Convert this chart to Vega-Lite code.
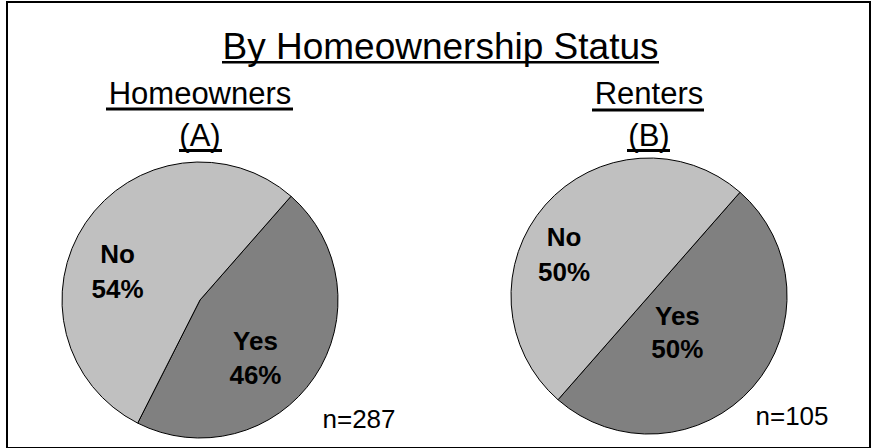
{
  "$schema": "https://vega.github.io/schema/vega-lite/v6.json",
  "width": 863,
  "height": 446,
  "autosize": {"type": "none"},
  "padding": {"left": 7, "top": 2, "right": 3, "bottom": 0},
  "background": "white",
  "config": {
    "view": {"stroke": "#000000", "strokeWidth": 2},
    "font": "Liberation Sans",
    "text": {"font": "Liberation Sans", "color": "#000000"}
  },
  "datasets": {
    "slices": [
      {"group": "A", "answer": "Yes", "share": 0.46},
      {"group": "A", "answer": "No", "share": 0.54},
      {"group": "B", "answer": "Yes", "share": 0.50},
      {"group": "B", "answer": "No", "share": 0.50}
    ],
    "groups": [
      {"group": "A", "name": "Homeowners", "code": "(A)", "nLabel": "n=287"},
      {"group": "B", "name": "Renters", "code": "(B)", "nLabel": "n=105"}
    ],
    "heading": [{"t": "By Homeownership Status"}]
  },
  "layer": [
    {
      "data": {"name": "slices"},
      "transform": [{"filter": "datum.group === 'A'"}],
      "mark": {"type": "arc", "radius": 138, "stroke": "#000000", "strokeWidth": 1, "y": 298},
      "encoding": {
        "x": {"field": "group", "type": "nominal", "scale": {"type": "point", "domain": ["A", "B"], "range": [193, 642], "padding": 0}, "axis": null},
        "theta": {"field": "share", "type": "quantitative", "stack": true, "scale": {"domain": [0, 1], "range": [0.72, 7.0032]}},
        "color": {"field": "answer", "type": "nominal", "scale": {"domain": ["No", "Yes"], "range": ["#C0C0C0", "#808080"]}, "legend": null},
        "order": {"field": "answer", "sort": "descending"}
      }
    },
    {
      "data": {"name": "slices"},
      "transform": [{"filter": "datum.group === 'B'"}],
      "mark": {"type": "arc", "radius": 138, "stroke": "#000000", "strokeWidth": 1, "y": 294},
      "encoding": {
        "x": {"field": "group", "type": "nominal"},
        "theta": {"field": "share", "type": "quantitative", "stack": true},
        "color": {"field": "answer", "type": "nominal"},
        "order": {"field": "answer", "sort": "descending"}
      }
    },
    {
      "data": {"name": "slices"},
      "transform": [{"filter": "datum.group === 'A'"}],
      "mark": {"type": "text", "radius": 82, "dx": -14.5, "dy": 1, "y": 298, "fontSize": 26, "fontWeight": "bold", "align": "center", "baseline": "middle"},
      "encoding": {
        "x": {"field": "group", "type": "nominal"},
        "theta": {"field": "share", "type": "quantitative", "stack": true},
        "order": {"field": "answer", "sort": "descending"},
        "text": {"field": "answer", "type": "nominal"},
        "opacity": {"condition": {"test": "datum.answer === 'No'", "value": 1}, "value": 0}
      }
    },
    {
      "data": {"name": "slices"},
      "transform": [{"filter": "datum.group === 'A'"}],
      "mark": {"type": "text", "radius": 82, "dx": -14.5, "dy": 36, "y": 298, "fontSize": 26, "fontWeight": "bold", "align": "center", "baseline": "middle"},
      "encoding": {
        "x": {"field": "group", "type": "nominal"},
        "theta": {"field": "share", "type": "quantitative", "stack": true},
        "order": {"field": "answer", "sort": "descending"},
        "text": {"field": "share", "type": "quantitative", "format": ".0%"},
        "opacity": {"condition": {"test": "datum.answer === 'No'", "value": 1}, "value": 0}
      }
    },
    {
      "data": {"name": "slices"},
      "transform": [{"filter": "datum.group === 'A'"}],
      "mark": {"type": "text", "radius": 82, "dx": -12.5, "dy": -3.5, "y": 298, "fontSize": 26, "fontWeight": "bold", "align": "center", "baseline": "middle"},
      "encoding": {
        "x": {"field": "group", "type": "nominal"},
        "theta": {"field": "share", "type": "quantitative", "stack": true},
        "order": {"field": "answer", "sort": "descending"},
        "text": {"field": "answer", "type": "nominal"},
        "opacity": {"condition": {"test": "datum.answer === 'Yes'", "value": 1}, "value": 0}
      }
    },
    {
      "data": {"name": "slices"},
      "transform": [{"filter": "datum.group === 'A'"}],
      "mark": {"type": "text", "radius": 82, "dx": -12.5, "dy": 30, "y": 298, "fontSize": 26, "fontWeight": "bold", "align": "center", "baseline": "middle"},
      "encoding": {
        "x": {"field": "group", "type": "nominal"},
        "theta": {"field": "share", "type": "quantitative", "stack": true},
        "order": {"field": "answer", "sort": "descending"},
        "text": {"field": "share", "type": "quantitative", "format": ".0%"},
        "opacity": {"condition": {"test": "datum.answer === 'Yes'", "value": 1}, "value": 0}
      }
    },
    {
      "data": {"name": "slices"},
      "transform": [{"filter": "datum.group === 'B'"}],
      "mark": {"type": "text", "radius": 69, "dx": -33, "dy": -12.5, "y": 294, "fontSize": 26, "fontWeight": "bold", "align": "center", "baseline": "middle"},
      "encoding": {
        "x": {"field": "group", "type": "nominal"},
        "theta": {"field": "share", "type": "quantitative", "stack": true},
        "order": {"field": "answer", "sort": "descending"},
        "text": {"field": "answer", "type": "nominal"},
        "opacity": {"condition": {"test": "datum.answer === 'No'", "value": 1}, "value": 0}
      }
    },
    {
      "data": {"name": "slices"},
      "transform": [{"filter": "datum.group === 'B'"}],
      "mark": {"type": "text", "radius": 69, "dx": -33, "dy": 22.5, "y": 294, "fontSize": 26, "fontWeight": "bold", "align": "center", "baseline": "middle"},
      "encoding": {
        "x": {"field": "group", "type": "nominal"},
        "theta": {"field": "share", "type": "quantitative", "stack": true},
        "order": {"field": "answer", "sort": "descending"},
        "text": {"field": "share", "type": "quantitative", "format": ".0%"},
        "opacity": {"condition": {"test": "datum.answer === 'No'", "value": 1}, "value": 0}
      }
    },
    {
      "data": {"name": "slices"},
      "transform": [{"filter": "datum.group === 'B'"}],
      "mark": {"type": "text", "radius": 69, "dx": -23.5, "dy": -24.5, "y": 294, "fontSize": 26, "fontWeight": "bold", "align": "center", "baseline": "middle"},
      "encoding": {
        "x": {"field": "group", "type": "nominal"},
        "theta": {"field": "share", "type": "quantitative", "stack": true},
        "order": {"field": "answer", "sort": "descending"},
        "text": {"field": "answer", "type": "nominal"},
        "opacity": {"condition": {"test": "datum.answer === 'Yes'", "value": 1}, "value": 0}
      }
    },
    {
      "data": {"name": "slices"},
      "transform": [{"filter": "datum.group === 'B'"}],
      "mark": {"type": "text", "radius": 69, "dx": -23.5, "dy": 9, "y": 294, "fontSize": 26, "fontWeight": "bold", "align": "center", "baseline": "middle"},
      "encoding": {
        "x": {"field": "group", "type": "nominal"},
        "theta": {"field": "share", "type": "quantitative", "stack": true},
        "order": {"field": "answer", "sort": "descending"},
        "text": {"field": "share", "type": "quantitative", "format": ".0%"},
        "opacity": {"condition": {"test": "datum.answer === 'Yes'", "value": 1}, "value": 0}
      }
    },
    {
      "data": {"name": "groups"},
      "mark": {"type": "text", "y": 102, "fontSize": 31, "align": "center", "baseline": "alphabetic"},
      "encoding": {
        "x": {"field": "group", "type": "nominal"},
        "text": {"field": "name", "type": "nominal"}
      }
    },
    {
      "data": {"name": "groups"},
      "mark": {"type": "text", "y": 144, "fontSize": 31, "align": "center", "baseline": "alphabetic"},
      "encoding": {
        "x": {"field": "group", "type": "nominal"},
        "text": {"field": "code", "type": "nominal"}
      }
    },
    {
      "data": {"name": "groups"},
      "transform": [{"filter": "datum.group === 'A'"}],
      "mark": {"type": "text", "y": 426, "dx": 159, "fontSize": 26, "align": "center", "baseline": "alphabetic"},
      "encoding": {
        "x": {"field": "group", "type": "nominal"},
        "text": {"field": "nLabel", "type": "nominal"}
      }
    },
    {
      "data": {"name": "groups"},
      "transform": [{"filter": "datum.group === 'B'"}],
      "mark": {"type": "text", "y": 423, "dx": 143, "fontSize": 26, "align": "center", "baseline": "alphabetic"},
      "encoding": {
        "x": {"field": "group", "type": "nominal"},
        "text": {"field": "nLabel", "type": "nominal"}
      }
    },
    {
      "data": {"name": "heading"},
      "mark": {"type": "text", "x": 433.5, "y": 57, "fontSize": 37, "align": "center", "baseline": "alphabetic"},
      "encoding": {
        "text": {"field": "t", "type": "nominal"}
      }
    },
    {
      "data": {"values": [{}]},
      "mark": {"type": "rect", "color": "#000000"},
      "encoding": {"x": {"value": 215}, "x2": {"value": 652}, "y": {"value": 59}, "y2": {"value": 61.5}}
    },
    {
      "data": {"values": [{}]},
      "mark": {"type": "rect", "color": "#000000"},
      "encoding": {"x": {"value": 99}, "x2": {"value": 286}, "y": {"value": 105.5}, "y2": {"value": 108.5}}
    },
    {
      "data": {"values": [{}]},
      "mark": {"type": "rect", "color": "#000000"},
      "encoding": {"x": {"value": 172}, "x2": {"value": 215}, "y": {"value": 147}, "y2": {"value": 150}}
    },
    {
      "data": {"values": [{}]},
      "mark": {"type": "rect", "color": "#000000"},
      "encoding": {"x": {"value": 585}, "x2": {"value": 697}, "y": {"value": 106.5}, "y2": {"value": 109.5}}
    },
    {
      "data": {"values": [{}]},
      "mark": {"type": "rect", "color": "#000000"},
      "encoding": {"x": {"value": 620}, "x2": {"value": 663}, "y": {"value": 147}, "y2": {"value": 150}}
    }
  ]
}
